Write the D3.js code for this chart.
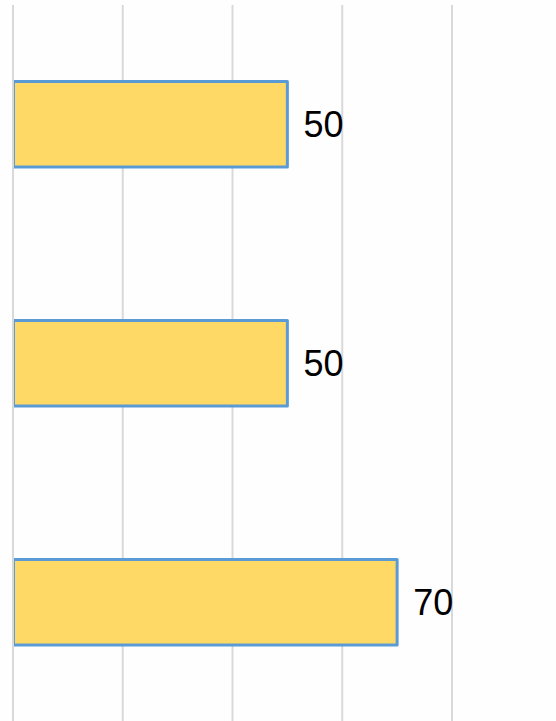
<!DOCTYPE html>
<html>
<head>
<meta charset="utf-8">
<script src="https://cdn.jsdelivr.net/npm/d3@7"></script>
<style>
  html, body { margin: 0; padding: 0; background: #fefefe; }
  svg { display: block; }
</style>
</head>
<body>
<div id="chart"></div>
<script>
// chart data
const categories = ["A", "B", "C"];
const values = [50, 50, 70];
const gridTicks = [0, 20, 40, 60, 80, 100];

const width = 556, height = 721;

const svg = d3.select("#chart").append("svg")
    .attr("width", width)
    .attr("height", height);

const x = d3.scaleLinear()
    .domain([0, 100])
    .range([13, 561.75]);

const y = d3.scaleBand()
    .domain(categories)
    .range([4.7, 721.7])
    .paddingInner(0.642)
    .paddingOuter(0.321);

// vertical gridlines
svg.append("g")
    .selectAll("line")
    .data(gridTicks.slice(1))
    .enter().append("line")
    .attr("x1", d => x(d))
    .attr("x2", d => x(d))
    .attr("y1", 5)
    .attr("y2", height)
    .style("stroke", "#d9d9d9")
    .style("stroke-width", 2);

// bars
svg.append("g")
    .selectAll("rect")
    .data(categories)
    .enter().append("rect")
    .attr("x", x(0) + 0.5)
    .attr("y", d => y(d))
    .attr("width", (d, i) => x(values[i]) - x(0) - 0.5)
    .attr("height", y.bandwidth())
    .style("fill", "#ffd966")
    .style("stroke", "#5b9bd5")
    .style("stroke-width", 3)
    .style("stroke-linejoin", "round");

// zero line on top of the bars
svg.append("line")
    .attr("x1", x(0))
    .attr("x2", x(0))
    .attr("y1", 5)
    .attr("y2", height)
    .style("stroke", "#d9d9d9")
    .style("stroke-width", 2);

// value labels
svg.append("g")
    .selectAll("text")
    .data(categories)
    .enter().append("text")
    .attr("x", (d, i) => x(values[i]) + 16)
    .attr("y", d => y(d) + y.bandwidth() / 2)
    .attr("dy", "0.36em")
    .style("font-family", "'Liberation Sans', Arial, sans-serif")
    .style("font-size", "36px")
    .style("fill", "#000")
    .text((d, i) => values[i]);
</script>
</body>
</html>
